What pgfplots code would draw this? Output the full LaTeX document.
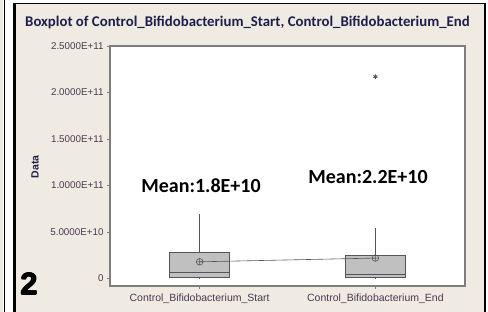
\documentclass[border=0pt]{standalone}
\usepackage{pgfplots}
\pgfplotsset{compat=1.18}
\usepgfplotslibrary{statistics}
\usepackage{fontspec}
\setmainfont{Liberation Sans}
\newfontfamily\calib{Carlito}
\definecolor{bgbeige}{RGB}{239,235,226}
\definecolor{titlecol}{RGB}{30,30,75}
\definecolor{tickcol}{RGB}{75,55,85}
\definecolor{framecol}{RGB}{125,125,125}
\definecolor{boxfill}{RGB}{192,192,192}
\definecolor{boxdraw}{RGB}{85,85,85}
\begin{document}
\begin{tikzpicture}[x=1pt,y=1pt]
\useasboundingbox (0,0) rectangle (488,312);
\fill[white] (0,0) rectangle (488,312);
\fill[bgbeige] (0,0) rectangle (3,312);
\fill[black] (3.5,0) rectangle (5.3,312);
\fill[bgbeige] (13,0) rectangle (486,309);
\fill[black] (13,0) rectangle (16,309);
\fill[black] (13,307.6) rectangle (486,309.2);
\fill[black] (483.8,0) rectangle (486,309);
\begin{axis}[
  at={(110pt,26pt)}, anchor=south west, scale only axis,
  width=355pt, height=240pt,
  axis background/.style={fill=white},
  axis line style={framecol, line width=1.2pt},
  xmin=0.49, xmax=2.51, ymin=-0.8e10, ymax=2.5e11,
  scaled y ticks=false,
  xtick={1,2},
  xticklabels={Control\_Bifidobacterium\_Start, Control\_Bifidobacterium\_End},
  ytick={0,5e10,1e11,1.5e11,2e11,2.5e11},
  yticklabels={0,5.0000E+10,1.0000E+11,1.5000E+11,2.0000E+11,2.5000E+11},
  xtick pos=lower, ytick pos=left,
  tick align=outside, major tick length=3pt,
  tick style={framecol, line width=0.6pt},
  yticklabel style={font=\fontsize{9.8}{11}\selectfont, text=tickcol},
  xticklabel style={font=\fontsize{10.5}{12}\selectfont, text=tickcol, yshift=-1pt},
  ylabel={\bfseries Data},
  ylabel style={at={(axis description cs:-0.211,0.496)}, anchor=center, font=\fontsize{10.5}{12}\selectfont, text=titlecol},
  boxplot/draw direction=y,
  boxplot/box extend=0.34,
  boxplot/whisker extend=0,
]
\addplot+[boxplot prepared={draw position=1, lower whisker=0.05e10, lower quartile=0.1e10, median=0.65e10, upper quartile=2.85e10, upper whisker=6.95e10},
  draw=boxdraw, fill=boxfill, line width=0.6pt, solid] coordinates {};
\addplot+[boxplot prepared={draw position=2, lower whisker=0.05e10, lower quartile=0.1e10, median=0.5e10, upper quartile=2.55e10, upper whisker=5.4e10},
  draw=boxdraw, fill=boxfill, line width=0.6pt, solid, mark=asterisk, mark options={boxdraw, line width=0.9pt, mark size=2.3pt}] table[row sep=\\, y index=0] {2.17e11\\};
\addplot[boxdraw, line width=0.6pt, mark=oplus, mark size=3.3pt, mark options={boxdraw, line width=0.6pt}] coordinates {(1,1.8e10) (2,2.2e10)};
\end{axis}
\node[font=\calib\bfseries\fontsize{14.8}{17}\selectfont, text=titlecol, anchor=west, inner sep=0pt] at (25,290) {Boxplot of Control\_Bifidobacterium\_Start, Control\_Bifidobacterium\_End};
\node[font=\calib\bfseries\fontsize{20}{22}\selectfont, text=black] at (201,126) {Mean:1.8E+10};
\node[font=\calib\bfseries\fontsize{20}{22}\selectfont, text=black] at (368,135) {Mean:2.2E+10};
\foreach \dx/\dy in {-0.6/0,0.6/0,0/-0.6,0/0.6,0/0}
  \node[font=\bfseries\fontsize{31}{32}\selectfont, text=black] at (29+\dx,28+\dy) {2};
\end{tikzpicture}
\end{document}
